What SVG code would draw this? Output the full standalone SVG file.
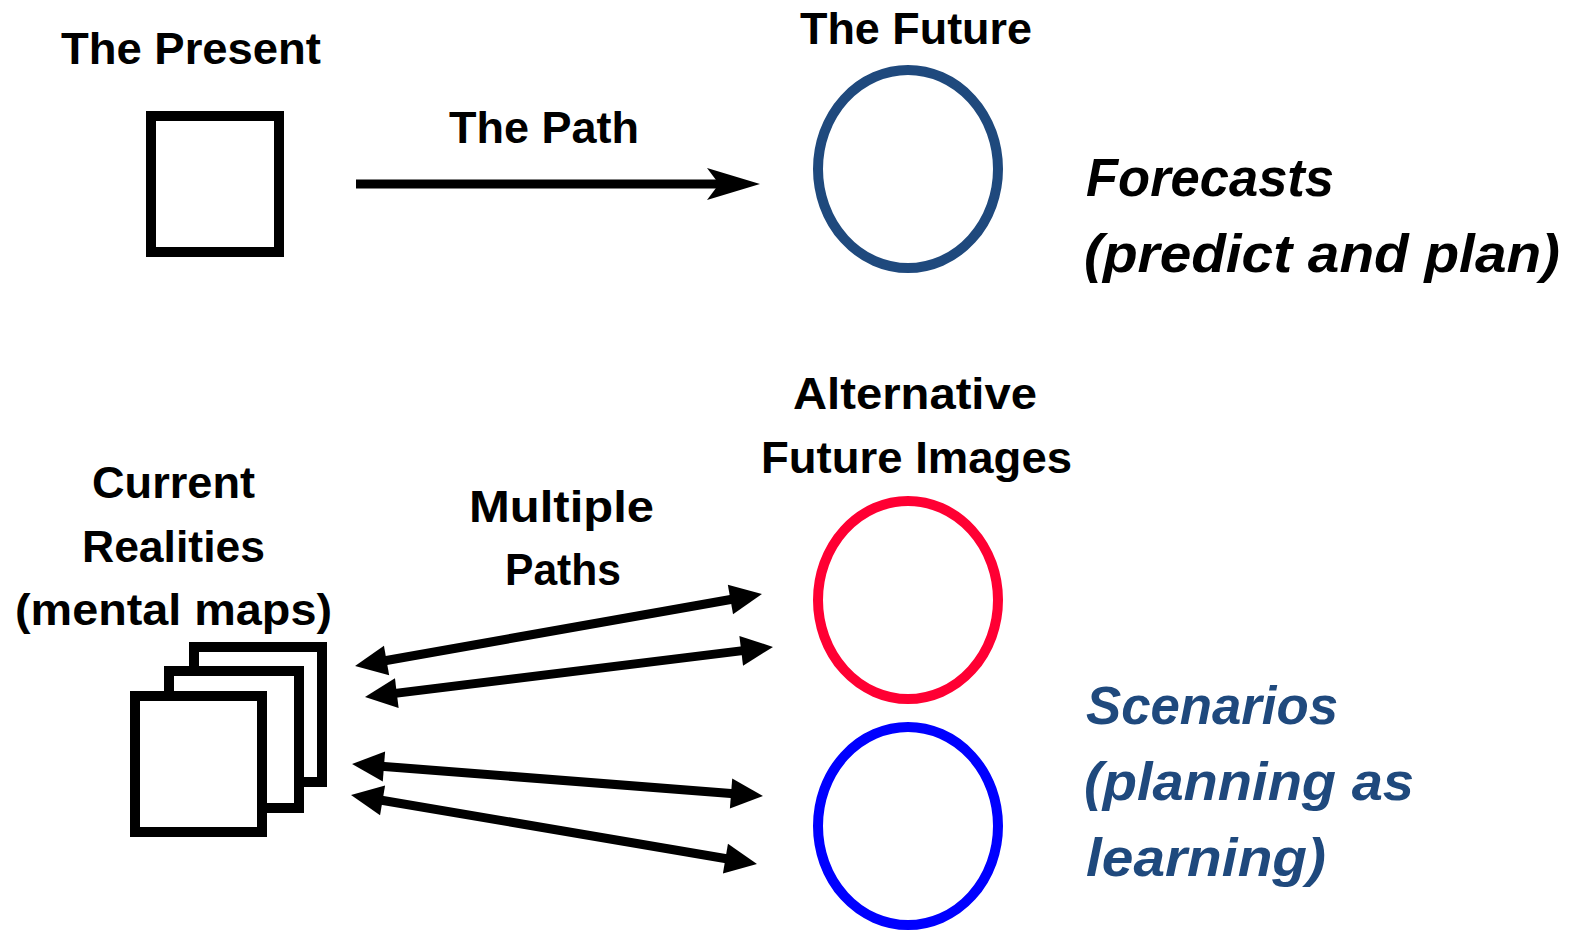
<svg xmlns="http://www.w3.org/2000/svg" width="1579" height="930" viewBox="0 0 1579 930">
<style>
.lbl{font-family:"Liberation Sans",Arial,sans-serif;font-weight:bold;font-size:45px;fill:#000}
.it{font-family:"Liberation Sans",Arial,sans-serif;font-weight:bold;font-style:italic;font-size:53px}
.box{fill:#fff;stroke:#000;stroke-width:10}
.ell{fill:none;stroke-width:10}
.con{stroke:#000;stroke-width:9;fill:none}
</style>
<defs>
<marker id="notch" viewBox="-20 -20 60 40" markerWidth="60" markerHeight="40" refX="0" refY="0" orient="auto" markerUnits="userSpaceOnUse">
<path d="M38,0 L-15,-16 L-3,0 L-15,16 Z" fill="#000"/>
</marker>
<marker id="tri" viewBox="-20 -20 40 40" markerWidth="40" markerHeight="40" refX="0" refY="0" orient="auto-start-reverse" markerUnits="userSpaceOnUse">
<path d="M16,0 L-16,-15 L-16,15 Z" fill="#000"/>
</marker>
</defs>
<rect width="1579" height="930" fill="#fff"/>

<g id="present">
<rect class="box" x="151" y="116" width="128" height="136"/>
<text class="lbl" x="61" y="64" textLength="260" lengthAdjust="spacingAndGlyphs">The Present</text>
</g>

<g id="future">
<ellipse class="ell" cx="908" cy="169" rx="90" ry="99" stroke="#1F497D"/>
<text class="lbl" x="800" y="44" textLength="232" lengthAdjust="spacingAndGlyphs">The Future</text>
</g>

<g id="forecasts">
<text class="it" x="1086" y="196" textLength="248" lengthAdjust="spacingAndGlyphs" fill="#000">Forecasts</text>
<text class="it" x="1084" y="272" textLength="476" lengthAdjust="spacingAndGlyphs" fill="#000">(predict and plan)</text>
</g>

<g id="current">
<rect class="box" x="194" y="647" width="128" height="135"/>
<rect class="box" x="169" y="671" width="130" height="137"/>
<rect class="box" x="135" y="696" width="127" height="136"/>
<text class="lbl" x="92" y="498" textLength="163" lengthAdjust="spacingAndGlyphs">Current</text>
<text class="lbl" x="82" y="562" textLength="183" lengthAdjust="spacingAndGlyphs">Realities</text>
<text class="lbl" x="15" y="625" textLength="317" lengthAdjust="spacingAndGlyphs">(mental maps)</text>
</g>

<g id="alt1">
<ellipse class="ell" cx="908" cy="600" rx="90" ry="99" stroke="#FF0033"/>
<text class="lbl" x="793" y="409" textLength="244" lengthAdjust="spacingAndGlyphs">Alternative</text>
<text class="lbl" x="761" y="473" textLength="311" lengthAdjust="spacingAndGlyphs">Future Images</text>
</g>

<g id="alt2">
<ellipse class="ell" cx="908" cy="826" rx="90" ry="99" stroke="#0000FF"/>
</g>

<g id="scenarios">
<text class="it" x="1086" y="724" textLength="252" lengthAdjust="spacingAndGlyphs" fill="#1F497D">Scenarios</text>
<text class="it" x="1084" y="800" textLength="330" lengthAdjust="spacingAndGlyphs" fill="#1F497D">(planning as</text>
<text class="it" x="1086" y="876" textLength="240" lengthAdjust="spacingAndGlyphs" fill="#1F497D">learning)</text>
</g>

<g id="connectors">
<line class="con" x1="356" y1="184" x2="722" y2="184" stroke-width="10" marker-end="url(#notch)"/>
<text class="lbl" x="449" y="143" textLength="190" lengthAdjust="spacingAndGlyphs">The Path</text>
<text class="lbl" x="469" y="522" textLength="185" lengthAdjust="spacingAndGlyphs">Multiple</text>
<text class="lbl" x="505" y="585" textLength="116" lengthAdjust="spacingAndGlyphs">Paths</text>
<line class="con" x1="370.8" y1="663.2" x2="746.2" y2="596.8" marker-start="url(#tri)" marker-end="url(#tri)"/>
<line class="con" x1="380.9" y1="695.1" x2="757.1" y2="648.9" marker-start="url(#tri)" marker-end="url(#tri)"/>
<line class="con" x1="368.0" y1="765.2" x2="747.0" y2="794.8" marker-start="url(#tri)" marker-end="url(#tri)"/>
<line class="con" x1="366.8" y1="797.7" x2="741.2" y2="861.3" marker-start="url(#tri)" marker-end="url(#tri)"/>
</g>
</svg>
